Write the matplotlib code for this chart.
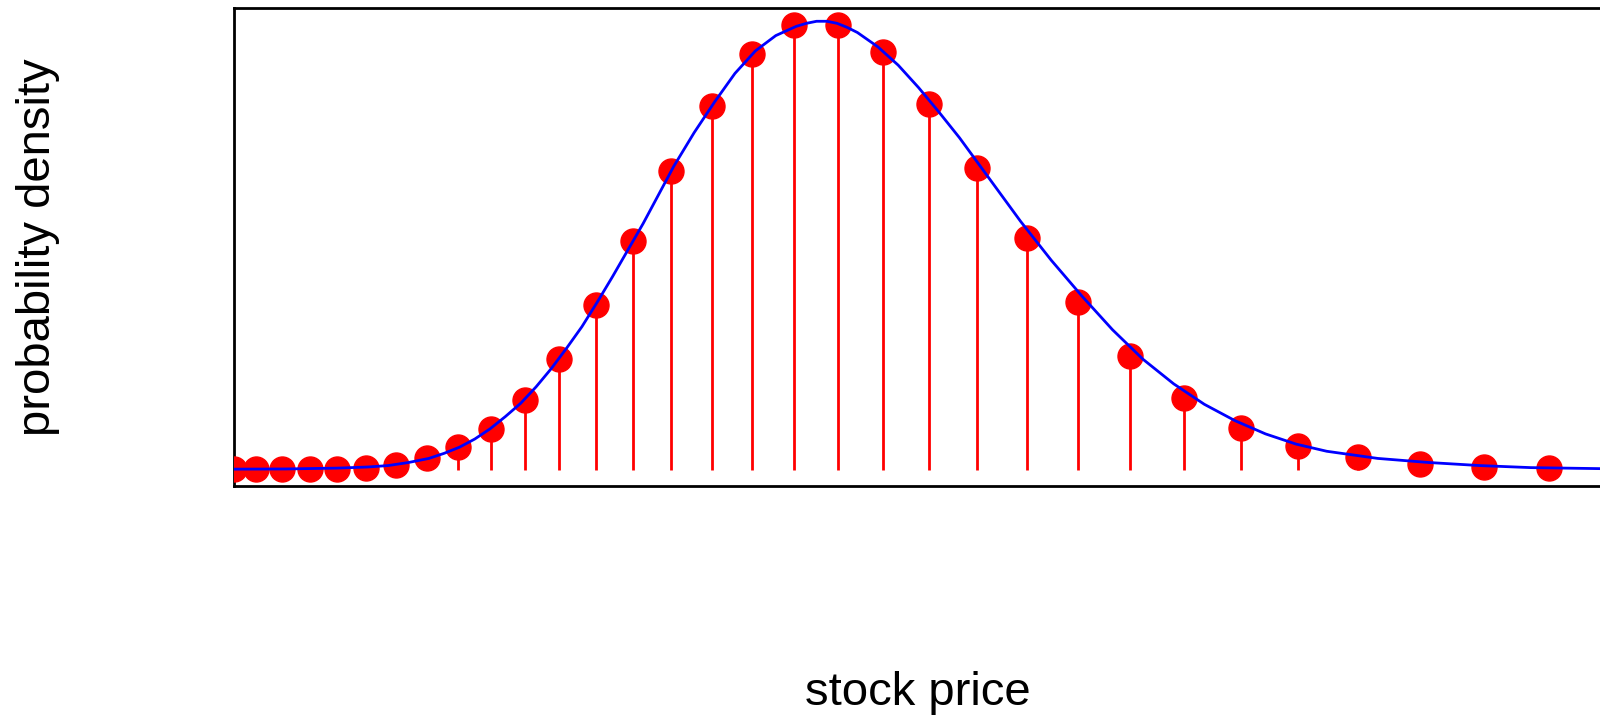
import matplotlib
matplotlib.use("Agg")
import matplotlib.pyplot as plt

plt.rcParams['font.family'] = ['Liberation Sans', 'DejaVu Sans']

# stock prices of the tree's terminal nodes and their probabilities
prices = [22.9, 25.1, 27.6, 30.3, 33.0, 35.8, 38.8, 41.8, 44.9, 48.1, 51.4, 54.8,
          58.4, 62.0, 65.7, 69.7, 73.7, 77.8, 82.1, 86.5, 91.0, 95.7, 100.6, 105.6,
          110.7, 116.0, 121.6, 127.2, 133.1, 139.1, 145.4, 151.8]
probs = [0.0001, 0.0001, 0.0001, 0.0001, 0.0001, 0.0002, 0.0005, 0.0011, 0.0022,
         0.0040, 0.0068, 0.0108, 0.0161, 0.0224, 0.0292, 0.0356, 0.0407, 0.0435,
         0.0435, 0.0409, 0.0358, 0.0295, 0.0227, 0.0164, 0.0111, 0.0070, 0.0041,
         0.0023, 0.0012, 0.0006, 0.0003, 0.0002]

# lognormal density curve
curve_x = [22.9, 28.0, 33.0, 36.0, 38.0, 40.0, 42.0, 43.5, 45.0, 46.5, 48.0, 49.5,
           51.0, 52.5, 54.0, 55.5, 57.0, 58.5, 60.0, 61.5, 63.0, 64.5, 66.0, 68.0,
           70.0, 72.0, 74.0, 76.0, 78.0, 79.0, 80.0, 81.0, 82.0, 83.0, 84.0, 86.0,
           88.0, 90.0, 92.0, 94.0, 97.0, 100.0, 103.0, 106.0, 109.0, 112.0, 115.0,
           118.0, 121.0, 124.0, 127.0, 130.0, 135.0, 140.0, 145.0, 150.0, 156.8, 162.0]
curve_y = [0.00005, 0.00007, 0.00015, 0.00026, 0.0004, 0.0007, 0.0011, 0.0016,
           0.0022, 0.0030, 0.0040, 0.0052, 0.0065, 0.0081, 0.0099, 0.0119, 0.0140,
           0.0164, 0.0189, 0.0215, 0.0241, 0.0269, 0.0297, 0.0330, 0.0360, 0.0388,
           0.0410, 0.0425, 0.0434, 0.0437, 0.0439, 0.0439, 0.0437, 0.0433, 0.0428,
           0.0414, 0.0396, 0.0374, 0.0350, 0.0325, 0.0284, 0.0243, 0.0205, 0.0170,
           0.0137, 0.0108, 0.0084, 0.0064, 0.0048, 0.0035, 0.0025, 0.0018, 0.0011,
           0.0007, 0.0004, 0.0002, 0.0001, 0.00008]

fig = plt.figure(figsize=(16, 7.18), dpi=100)
W, H = 1600, 718
# axes runs past the right edge of the figure, like the original
ax = fig.add_axes([234 / W, (H - 486) / H, (1640 - 234) / W, (486 - 8) / H])

ax.vlines(prices, 0, probs, color='red', linewidth=2)
ax.plot(prices, probs, 'o', color='red', markersize=18, zorder=3)
ax.plot(curve_x, curve_y, color='blue', linewidth=2, zorder=4)

ax.set_xlim(22.9, 160.7)
ax.set_ylim(-0.0016, 0.0452)
ax.set_xticks([])
ax.set_yticks([])
for s in ax.spines.values():
    s.set_linewidth(2)

fig.text(918 / W, 1 - 693 / H, 'stock price', fontsize=34, ha='center', va='center')
fig.text(38 / W, 1 - 247 / H, 'probability density', fontsize=34, rotation=90,
         ha='center', va='center')

fig.savefig('out.png', dpi=100)
